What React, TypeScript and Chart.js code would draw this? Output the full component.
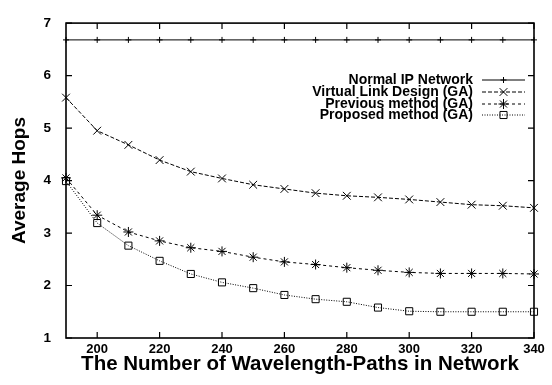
import React, { useEffect, useRef } from 'react';
import { Chart, registerables } from 'chart.js';
import * as helpers from 'chart.js/helpers';

Chart.register(...registerables);

const xValues = [190, 200, 210, 220, 230, 240, 250, 260, 270, 280, 290, 300, 310, 320, 330, 340];
const xTickValues = [200, 220, 240, 260, 280, 300, 320, 340];
const yTickValues = [1, 2, 3, 4, 5, 6, 7];

const normalIP = [6.68, 6.68, 6.68, 6.68, 6.68, 6.68, 6.68, 6.68, 6.68, 6.68, 6.68, 6.68, 6.68, 6.68, 6.68, 6.68];
const virtualLink = [5.58, 4.95, 4.68, 4.39, 4.17, 4.04, 3.92, 3.84, 3.76, 3.71, 3.68, 3.64, 3.59, 3.54, 3.52, 3.48];
const previousMethod = [4.05, 3.34, 3.02, 2.85, 2.72, 2.65, 2.54, 2.45, 2.40, 2.34, 2.29, 2.25, 2.23, 2.23, 2.23, 2.22];
const proposedMethod = [3.99, 3.19, 2.76, 2.47, 2.22, 2.06, 1.95, 1.82, 1.74, 1.69, 1.58, 1.51, 1.50, 1.50, 1.50, 1.50];

const seriesNames = ['Normal IP Network', 'Virtual Link Design (GA)', 'Previous method (GA)', 'Proposed method (GA)'];
const xTitle = 'The Number of Wavelength-Paths in Network';
const yTitle = 'Average Hops';

const FONT = '"Liberation Sans", Arial, Helvetica, sans-serif';

export default function App() {
  const ref = useRef<HTMLCanvasElement>(null);

  useEffect(() => {
    if (!ref.current) return;

    const decor = {
      id: 'decor',
      afterDraw(chart: any) {
        const { ctx, chartArea: a, scales } = chart;
        ctx.save();
        ctx.strokeStyle = '#000';
        ctx.lineWidth = 1.6;
        ctx.strokeRect(a.left, a.top, a.right - a.left, a.bottom - a.top);
        const L = 6;
        ctx.lineWidth = 1.2;
        ctx.beginPath();
        xTickValues.forEach((v) => {
          const px = scales.x.getPixelForValue(v);
          ctx.moveTo(px, a.bottom);
          ctx.lineTo(px, a.bottom - L);
          ctx.moveTo(px, a.top);
          ctx.lineTo(px, a.top + L);
        });
        yTickValues.forEach((v) => {
          const py = scales.y.getPixelForValue(v);
          ctx.moveTo(a.left, py);
          ctx.lineTo(a.left + L, py);
          ctx.moveTo(a.right, py);
          ctx.lineTo(a.right - L, py);
        });
        ctx.stroke();

        // axis titles
        ctx.fillStyle = '#000';
        ctx.font = `bold 20.5px ${FONT}`;
        ctx.textAlign = 'center';
        ctx.textBaseline = 'alphabetic';
        ctx.fillText(xTitle, (a.left + a.right) / 2, 370);

        ctx.save();
        ctx.translate(25, (a.top + a.bottom) / 2);
        ctx.rotate(-Math.PI / 2);
        ctx.font = `bold 19px ${FONT}`;
        ctx.fillText(yTitle, 0, 0);
        ctx.restore();

        // legend
        const rowY = [80, 92, 104, 115];
        ctx.font = `bold 14px ${FONT}`;
        ctx.textAlign = 'right';
        ctx.textBaseline = 'middle';
        chart.data.datasets.forEach((ds: any, i: number) => {
          const y = rowY[i];
          ctx.fillStyle = '#000';
          ctx.fillText(ds.label, 473, y);
          ctx.save();
          ctx.strokeStyle = ds.borderColor;
          ctx.lineWidth = ds.borderWidth;
          ctx.setLineDash(ds.borderDash || []);
          ctx.beginPath();
          ctx.moveTo(482, y);
          ctx.lineTo(525, y);
          ctx.stroke();
          ctx.restore();
          ctx.save();
          ctx.strokeStyle = ds.pointBorderColor;
          ctx.fillStyle = 'rgba(0,0,0,0)';
          ctx.lineWidth = ds.pointBorderWidth;
          helpers.drawPoint(ctx, { pointStyle: ds.pointStyle, radius: ds.pointRadius, rotation: 0, borderWidth: ds.pointBorderWidth }, 503.5, y);
          ctx.restore();
        });
        ctx.restore();
      },
    };

    const mk = (label: string, data: number[], dash: number[], style: string, radius: number) => ({
      label,
      data: xValues.map((x, i) => ({ x, y: data[i] })),
      borderColor: '#000',
      borderWidth: 1,
      borderDash: dash,
      pointStyle: style,
      pointRadius: radius,
      pointBorderColor: '#000',
      pointBackgroundColor: 'rgba(0,0,0,0)',
      pointBorderWidth: 1,
      fill: false,
      tension: 0,
      clip: false,
    });

    const chart = new Chart(ref.current, {
      type: 'line',
      data: {
        datasets: [
          mk(seriesNames[0], normalIP, [], 'cross', 3),
          mk(seriesNames[1], virtualLink, [4, 2], 'crossRot', 5.5),
          mk(seriesNames[2], previousMethod, [3, 3], 'star', 5),
          mk(seriesNames[3], proposedMethod, [1, 1.5], 'rect', 5),
        ] as any,
      },
      options: {
        animation: false,
        responsive: false,
        layout: { padding: { left: 0, top: 19, right: 18, bottom: 0 } },
        plugins: { legend: { display: false }, tooltip: { enabled: false } },
        scales: {
          x: {
            type: 'linear',
            min: 190,
            max: 340,
            grid: { display: false, drawTicks: false },
            border: { display: false },
            afterBuildTicks: (s: any) => {
              s.ticks = xTickValues.map((v) => ({ value: v }));
            },
            afterFit: (s: any) => {
              s.height = 47;
            },
            ticks: {
              color: '#000',
              padding: 4,
              maxRotation: 0,
              autoSkip: false,
              font: { family: FONT, size: 13, weight: 'bold' },
            },
          },
          y: {
            type: 'linear',
            min: 1,
            max: 7,
            grid: { display: false, drawTicks: false },
            border: { display: false },
            afterBuildTicks: (s: any) => {
              s.ticks = yTickValues.map((v) => ({ value: v }));
            },
            afterFit: (s: any) => {
              s.width = 66;
            },
            ticks: {
              color: '#000',
              padding: 15,
              font: { family: FONT, size: 13.5, weight: 'bold' },
            },
          },
        },
      } as any,
      plugins: [decor],
    });

    return () => chart.destroy();
  }, []);

  return (
    <div style={{ position: 'absolute', left: 0, top: 0, width: 552, height: 385, background: '#fff' }}>
      <canvas ref={ref} width={552} height={385} style={{ width: 552, height: 385 }} />
    </div>
  );
}
